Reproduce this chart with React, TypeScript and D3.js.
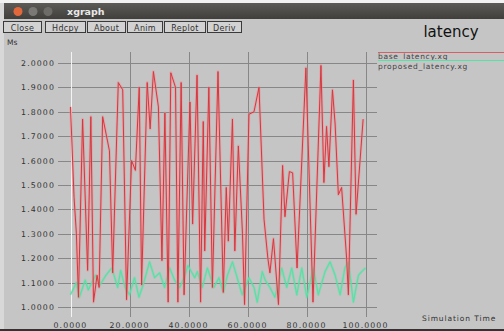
import React from "react";
import * as d3 from "d3";

const xTicks = [0, 20, 40, 60, 80, 100];
const yTicks = [1.0, 1.1, 1.2, 1.3, 1.4, 1.5, 1.6, 1.7, 1.8, 1.9, 2.0];
const buttons = ["Close", "Hdcpy", "About", "Anim", "Replot", "Deriv"];
const seriesNames = ["base_latency.xg", "proposed_latency.xg"];

const baseT = [0, 1.2, 2.0, 2.7, 4.1, 5.8, 6.9, 7.8, 9.0, 9.7, 10.9, 13.2, 14.3, 16.2, 17.7, 19.0, 20.7, 22.0, 23.3, 24.1, 26.0, 27.0, 28.1, 29.8, 31.0, 32.0, 33.1, 34.0, 35.6, 36.4, 37.5, 38.5, 40.5, 41.4, 42.9, 44.1, 45.0, 45.5, 46.9, 48.1, 50.0, 51.8, 52.8, 53.5, 54.9, 55.7, 56.9, 58.3, 59.0, 60.5, 62.2, 63.9, 65.6, 66.9, 67.6, 68.8, 70.5, 71.9, 72.7, 74.2, 75.3, 76.8, 79.8, 82.2, 84.9, 85.9, 86.8, 87.6, 88.8, 89.7, 90.8, 91.9, 93.6, 94.2, 95.9, 96.8, 99.2];
const baseV = [1.82, 1.45, 1.30, 1.04, 1.77, 1.15, 1.78, 1.02, 1.13, 1.08, 1.78, 1.64, 1.14, 1.92, 1.89, 1.03, 1.60, 1.56, 1.90, 1.09, 1.92, 1.73, 1.965, 1.82, 1.19, 1.795, 1.02, 1.96, 1.90, 1.02, 1.92, 1.05, 1.84, 1.34, 1.95, 1.02, 1.76, 1.23, 1.90, 1.08, 1.965, 1.06, 1.49, 1.27, 1.77, 1.23, 1.66, 1.30, 1.01, 1.79, 1.80, 1.90, 1.36, 1.20, 1.14, 1.28, 1.01, 1.58, 1.37, 1.555, 1.55, 1.16, 1.98, 1.02, 1.99, 1.51, 1.74, 1.575, 1.89, 1.75, 1.46, 1.49, 1.20, 1.05, 1.93, 1.38, 1.77];

const propT = [0, 2, 3, 5, 6, 8.5, 10, 12, 14, 16, 17, 18.5, 20, 21.7, 23.2, 24.6, 26.8, 28.5, 30.2, 31.9, 33.6, 35.3, 37, 38.5, 39.8, 42.1, 43, 44.7, 46.4, 48.6, 50.3, 51.8, 53.2, 54.9, 56.5, 58.2, 60.5, 62.2, 63.3, 65, 66, 67.6, 69.3, 71.6, 73.3, 75, 76.7, 78.4, 80.1, 82.3, 84, 86.3, 88, 89.7, 91.4, 93, 94.2, 95.9, 97.6, 98.7, 100];
const propV = [1.05, 1.10, 1.04, 1.11, 1.07, 1.13, 1.09, 1.13, 1.16, 1.08, 1.15, 1.08, 1.05, 1.12, 1.04, 1.09, 1.185, 1.12, 1.14, 1.08, 1.16, 1.11, 1.08, 1.12, 1.17, 1.12, 1.145, 1.08, 1.16, 1.08, 1.12, 1.06, 1.13, 1.185, 1.12, 1.05, 1.12, 1.08, 1.02, 1.145, 1.11, 1.08, 1.04, 1.16, 1.08, 1.16, 1.05, 1.16, 1.04, 1.16, 1.05, 1.145, 1.185, 1.13, 1.05, 1.16, 1.185, 1.02, 1.13, 1.145, 1.16];

const RED = "#d9363e";
const GREEN = "#55e2a4";
const BG = "#c5c5c5";
const GRID = "#878787";
const FONT = "'DejaVu Sans', sans-serif";

export default function App() {
  const W = 504, H = 331;
  const x = d3.scaleLinear().domain([0, 100]).range([70.5, 365.5]);
  const y = d3.scaleLinear().domain([1, 2]).range([307, 63]);
  const line = d3.line<[number, number]>().x(d => x(d[0])).y(d => y(d[1])).curve(d3.curveLinear);
  const baseData: [number, number][] = baseT.map((t, i) => [t, baseV[i]]);
  const propData: [number, number][] = propT.map((t, i) => [t, propV[i]]);

  const btnX = [3, 45, 87, 127, 164, 207];
  const btnW = [38, 40, 38, 35, 41, 34];

  return (
    <svg width={W} height={H} style={{ position: "absolute", left: 0, top: 0 }} fontFamily={FONT}>
      <defs>
        <linearGradient id="tb" x1="0" y1="0" x2="0" y2="1">
          <stop offset="0" stopColor="#5c5b57" />
          <stop offset="1" stopColor="#403f3b" />
        </linearGradient>
      </defs>
      <rect x={0} y={0} width={W} height={H} fill={BG} />
      <rect x={0} y={0} width={4} height={H} fill="#d8d8d8" />
      {/* title bar */}
      <rect x={0} y={0} width={W} height={3} fill="#f2f2f2" />
      <rect x={4} y={3} width={W - 4} height={16} fill="url(#tb)" />
      <circle cx={18} cy={11.5} r={4.5} fill="#e2683c" />
      <circle cx={33} cy={11.5} r={4.5} fill="#7a7975" />
      <circle cx={48} cy={11.5} r={4.5} fill="#6d6c68" />
      <text x={67} y={15} fill="#e8e8e8" fontSize={9.5} fontWeight="bold">xgraph</text>
      {/* buttons */}
      {buttons.map((b, i) => (
        <g key={b}>
          <rect x={btnX[i] + 0.5} y={21.5} width={btnW[i]} height={11} fill="#d2d2d2" stroke="#3a3a3a" strokeWidth={1} />
          <text x={btnX[i] + btnW[i] / 2 + 0.5} y={30.5} textAnchor="middle" fontSize={8} letterSpacing={0.3} fill="#333">{b}</text>
        </g>
      ))}
      <text x={451} y={37} textAnchor="middle" fontSize={15} fill="#111">latency</text>
      <text x={7} y={45} fontSize={7.5} fill="#333">Ms</text>
      {/* grid */}
      {yTicks.map(v => (
        <line key={"h" + v} x1={58} x2={377} y1={Math.round(y(v)) + 0.5} y2={Math.round(y(v)) + 0.5} stroke={GRID} strokeWidth={1} />
      ))}
      {xTicks.map(v => (
        <line key={"v" + v} x1={Math.round(x(v)) + 0.5} x2={Math.round(x(v)) + 0.5} y1={52} y2={317} stroke={v === 0 ? "#f4f4f4" : GRID} strokeWidth={1} />
      ))}
      {yTicks.map(v => (
        <text key={"yl" + v} x={55} y={y(v) + 3} textAnchor="end" fontSize={7.8} letterSpacing={1.1} fill="#333">{v.toFixed(4)}</text>
      ))}
      {xTicks.map(v => (
        <text key={"xl" + v} x={x(v)} y={328} textAnchor="middle" fontSize={7.8} letterSpacing={1.1} fill="#333">{v.toFixed(4)}</text>
      ))}
      <text x={422} y={321} fontSize={7.5} letterSpacing={0.9} fill="#333">Simulation Time</text>
      {/* series */}
      <path d={line(propData) || ""} fill="none" stroke={GREEN} strokeOpacity={0.35} strokeWidth={2.6} strokeLinejoin="round" />
      <path d={line(propData) || ""} fill="none" stroke={GREEN} strokeWidth={1.1} strokeLinejoin="round" />
      <path d={line(baseData) || ""} fill="none" stroke="#f08a8e" strokeOpacity={0.45} strokeWidth={2.8} strokeLinejoin="round" />
      <path d={line(baseData) || ""} fill="none" stroke={RED} strokeWidth={1} strokeLinejoin="round" />
      {/* legend */}
      <line x1={378} x2={W} y1={52.5} y2={52.5} stroke={RED} strokeWidth={1} strokeOpacity={0.7} />
      <text x={378} y={59} fontSize={7.5} letterSpacing={0.7} fill="#444">{seriesNames[0]}</text>
      <line x1={378} x2={W} y1={60.5} y2={60.5} stroke={GREEN} strokeWidth={1.2} />
      <text x={378} y={69} fontSize={7.5} letterSpacing={0.7} fill="#444">{seriesNames[1]}</text>
      <rect x={0} y={329} width={W} height={2} fill="#333" />
    </svg>
  );
}
